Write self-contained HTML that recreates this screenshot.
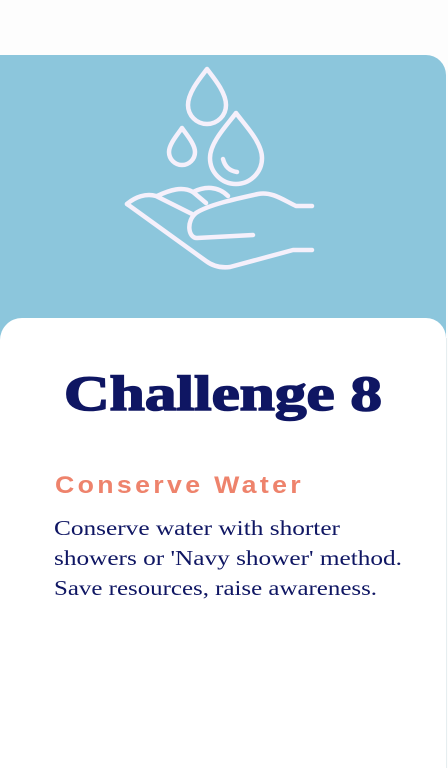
<!DOCTYPE html>
<html><head><meta charset="utf-8"><style>
html,body{margin:0;padding:0;width:448px;height:768px;overflow:hidden;background:#fff}
svg{display:block}
</style></head><body>
<svg width="448" height="768" viewBox="0 0 448 768">
<rect x="0" y="0" width="448" height="768" fill="#fdfdfd"/>
<path d="M0 55 H426 A20 20 0 0 1 446 75 V340 H0 Z" fill="#8cc6dc"/>
<path d="M0 340 A22 22 0 0 1 22 318 H426 A20 20 0 0 1 446 338 V768 H0 Z" fill="#ffffff"/>
<line x1="446.5" y1="338" x2="446.5" y2="768" stroke="#e6eef0" stroke-width="1"/>
<g fill="none" stroke="#f5f0fb" stroke-width="4.5" stroke-linecap="round" stroke-linejoin="round">
<path d="M207 69 C201 77 188 92 188 105 A19 19 0 0 0 226 105 C226 92 213 77 207 69 Z"/>
<path d="M182 128 C178 134 169 144 169 152 A13 13 0 0 0 195 152 C195 144 186 134 182 128 Z"/>
<path d="M236 113 C228 124 210 142 210 158 A26 26 0 0 0 262 158 C262 142 244 124 236 113 Z"/>
<path d="M223 159 C225 167 230 171 237 172"/>
<path d="M127 204 L206 261 C214 267 222 268 230 267 L293 250 H312"/>
<path d="M312 206 H296 C285 201 272 191 258 194 C235 199 208 205 196 213 C186 221 188 238 197 238 L253 235"/>
<path d="M127 204 C135 197 146 193 156 196 L192 214"/>
<path d="M157 196 C170 190 182 186 193 192 L206 203"/>
<path d="M193 192 C205 186 218 186 228 196"/>
</g>
<text x="64" y="410" textLength="318" lengthAdjust="spacingAndGlyphs" font-family="Liberation Serif, serif" font-weight="bold" font-size="50" fill="#0f1663" stroke="#0f1663" stroke-width="1.6">Challenge 8</text>
<text x="55" y="493" textLength="249" lengthAdjust="spacingAndGlyphs" font-family="Liberation Sans, sans-serif" font-weight="bold" font-size="24" letter-spacing="3" fill="#ee836c">Conserve Water</text>
<g font-family="Liberation Serif, serif" font-size="21" fill="#0f1663">
<text x="54" y="535" textLength="286" lengthAdjust="spacingAndGlyphs">Conserve water with shorter</text>
<text x="54" y="565" textLength="348" lengthAdjust="spacingAndGlyphs">showers or 'Navy shower' method.</text>
<text x="54" y="595" textLength="323" lengthAdjust="spacingAndGlyphs">Save resources, raise awareness.</text>
</g>
</svg>
</body></html>
